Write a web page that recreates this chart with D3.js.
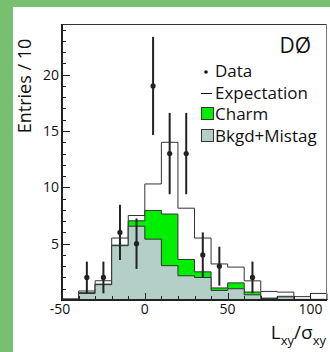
<!DOCTYPE html>
<html>
<head>
<meta charset="utf-8">
<script src="https://cdn.jsdelivr.net/npm/d3@7"></script>
<style>
  html, body { margin: 0; padding: 0; background: #fff; }
  svg { display: block; font-family: "Open Sans", sans-serif; }
</style>
</head>
<body>
<div id="chart"></div>
<script>
// bin lower edges, width 10
const binEdges = [-50, -40, -30, -20, -10, 0, 10, 20, 30, 40, 50, 60, 70, 80, 90, 100];
const bkgd = [0.05, 0.58, 1.36, 4.82, 6.55, 5.4, 3.05, 2.15, 2.0, 0.85, 1.0, 0.46, 0.12, 0.28, 0.05, 0.05];
const charm = [0, 0.07, 0.05, 0.05, 0.48, 2.55, 4.58, 1.45, 0.5, 0.22, 0.52, 0.25, 0.05, 0.05, 0, 0];
const expectation = [0.1, 0.8, 1.71, 5.5, 7.5, 10.3, 14.0, 8.15, 5.5, 3.2, 2.92, 1.7, 0.76, 0.7, 0.3, 0.58];

const dataX = [-35, -25, -15, -5, 5, 15, 25, 35, 45, 65];
const dataY = [2, 2, 6, 5, 19, 13, 13, 4, 3, 2];
const dataErr = [1.41, 1.41, 2.45, 2.24, 4.36, 3.61, 3.61, 2.0, 1.73, 1.41];

const xMajor = [-50, 0, 50, 100];
const yMajor = [5, 10, 15, 20];

const W = 330, H = 352;
const plotL = 62, plotR = 327, plotT = 24, plotB = 300;
const binW = 10;

const svg = d3.select('#chart').append('svg')
  .attr('width', W).attr('height', H);

// green frame on left and top
svg.append('rect').attr('x', 0).attr('y', 0).attr('width', W).attr('height', H).attr('fill', '#77c06f');
svg.append('rect').attr('x', 13).attr('y', 7).attr('width', W).attr('height', H).attr('fill', '#fff');

const x = d3.scaleLinear().domain([-50, 110]).range([plotL, plotR]);
const y = d3.scaleLinear().domain([0, 24.5]).range([plotB, plotT]);

// step outline points for a histogram
function steps(vals) {
  const pts = [[binEdges[0], 0]];
  vals.forEach((v, i) => {
    pts.push([binEdges[i], v]);
    pts.push([binEdges[i] + binW, v]);
  });
  pts.push([binEdges[binEdges.length - 1] + binW, 0]);
  return pts;
}

const line = d3.line().x(d => x(d[0])).y(d => y(d[1]));
const area = d3.area().x(d => x(d[0])).y0(y(0)).y1(d => y(d[1]));

const stacked = bkgd.map((b, i) => b + charm[i]);

// expectation
svg.append('path')
  .attr('d', line(steps(expectation)))
  .attr('fill', 'none')
  .attr('stroke', '#333')
  .attr('stroke-width', 1);

// charm on top of bkgd
svg.append('path')
  .attr('d', area(steps(stacked)))
  .attr('fill', '#00ee00');
svg.append('path')
  .attr('d', line(steps(stacked)))
  .attr('fill', 'none')
  .attr('stroke', '#333')
  .attr('stroke-width', 1);

// bkgd + mistag
svg.append('path')
  .attr('d', area(steps(bkgd)))
  .attr('fill', '#b3cfc8');
svg.append('path')
  .attr('d', line(steps(bkgd)))
  .attr('fill', 'none')
  .attr('stroke', '#333')
  .attr('stroke-width', 1);

// frame
svg.append('line').attr('x1', plotL).attr('x2', plotR).attr('y1', plotT + 0.5).attr('y2', plotT + 0.5)
  .attr('stroke', '#333').attr('stroke-width', 1);
svg.append('line').attr('x1', plotR - 0.5).attr('x2', plotR - 0.5).attr('y1', plotT).attr('y2', plotB)
  .attr('stroke', '#777').attr('stroke-width', 1);

// y ticks (inward)
const gy = svg.append('g');
d3.range(1, 25).forEach(v => {
  const major = yMajor.includes(v);
  gy.append('line')
    .attr('x1', plotL).attr('x2', plotL + (major ? 8 : 4))
    .attr('y1', Math.round(y(v)) + 0.5).attr('y2', Math.round(y(v)) + 0.5)
    .attr('stroke', '#222').attr('stroke-width', 1);
});
yMajor.forEach(v => {
  gy.append('text')
    .attr('x', plotL - 3).attr('y', y(v) + 5)
    .attr('text-anchor', 'end')
    .attr('font-size', 14).attr('fill', '#111')
    .text(v);
});

// x ticks (inward)
const gx = svg.append('g');
d3.range(-40, 110, 10).forEach(v => {
  const major = xMajor.includes(v);
  gx.append('line')
    .attr('x1', Math.round(x(v)) + 0.5).attr('x2', Math.round(x(v)) + 0.5)
    .attr('y1', plotB).attr('y2', plotB - (major ? 7 : 4))
    .attr('stroke', '#222').attr('stroke-width', 1);
});
xMajor.forEach(v => {
  gx.append('text')
    .attr('x', x(v) - (v < 0 ? 2 : 0)).attr('y', 314)
    .attr('text-anchor', 'middle')
    .attr('font-size', 14).attr('fill', '#111')
    .text(v);
});

// thick left and bottom axes
svg.append('line').attr('x1', plotL).attr('x2', plotL).attr('y1', plotT).attr('y2', plotB + 1)
  .attr('stroke', '#222').attr('stroke-width', 2);
svg.append('line').attr('x1', plotL - 1).attr('x2', plotR).attr('y1', plotB).attr('y2', plotB)
  .attr('stroke', '#222').attr('stroke-width', 2);

// data points with errors
const pts = svg.append('g');
dataX.forEach((d, i) => {
  pts.append('line')
    .attr('x1', x(d)).attr('x2', x(d))
    .attr('y1', y(dataY[i] - dataErr[i])).attr('y2', y(dataY[i] + dataErr[i]))
    .attr('stroke', '#222').attr('stroke-width', 2);
  pts.append('circle')
    .attr('cx', x(d)).attr('cy', y(dataY[i]))
    .attr('r', 2.6).attr('fill', '#222');
});

// axis titles
svg.append('text')
  .attr('transform', 'translate(31,86) rotate(-90)')
  .attr('text-anchor', 'middle')
  .attr('font-size', 18).attr('fill', '#111')
  .text('Entries / 10');

const xt = svg.append('text')
  .attr('x', 326).attr('y', 339)
  .attr('text-anchor', 'end')
  .attr('font-size', 19).attr('fill', '#111');
xt.append('tspan').text('L');
xt.append('tspan').attr('font-size', 13).attr('dy', 6).text('xy');
xt.append('tspan').attr('dy', -6).text('/σ');
xt.append('tspan').attr('font-size', 13).attr('dy', 6).text('xy');

// legend
svg.append('text')
  .attr('x', 311).attr('y', 53)
  .attr('text-anchor', 'end')
  .attr('font-size', 21).attr('fill', '#111')
  .text('DØ');

const lg = svg.append('g').attr('font-size', 17).attr('fill', '#111');
lg.append('circle').attr('cx', 206).attr('cy', 72).attr('r', 1.8).attr('fill', '#111');
lg.append('text').attr('x', 215).attr('y', 77).text('Data');
lg.append('line').attr('x1', 201).attr('x2', 212).attr('y1', 93.5).attr('y2', 93.5)
  .attr('stroke', '#111').attr('stroke-width', 1);
lg.append('text').attr('x', 215).attr('y', 99).text('Expectation');
lg.append('rect').attr('x', 201.5).attr('y', 107.5).attr('width', 12).attr('height', 12)
  .attr('fill', '#00ee00').attr('stroke', '#333').attr('stroke-width', 1);
lg.append('text').attr('x', 215).attr('y', 120).text('Charm');
lg.append('rect').attr('x', 201.5).attr('y', 129.5).attr('width', 12).attr('height', 12)
  .attr('fill', '#b3cfc8').attr('stroke', '#333').attr('stroke-width', 1);
lg.append('text').attr('x', 215).attr('y', 142).text('Bkgd+Mistag');
</script>
</body>
</html>
